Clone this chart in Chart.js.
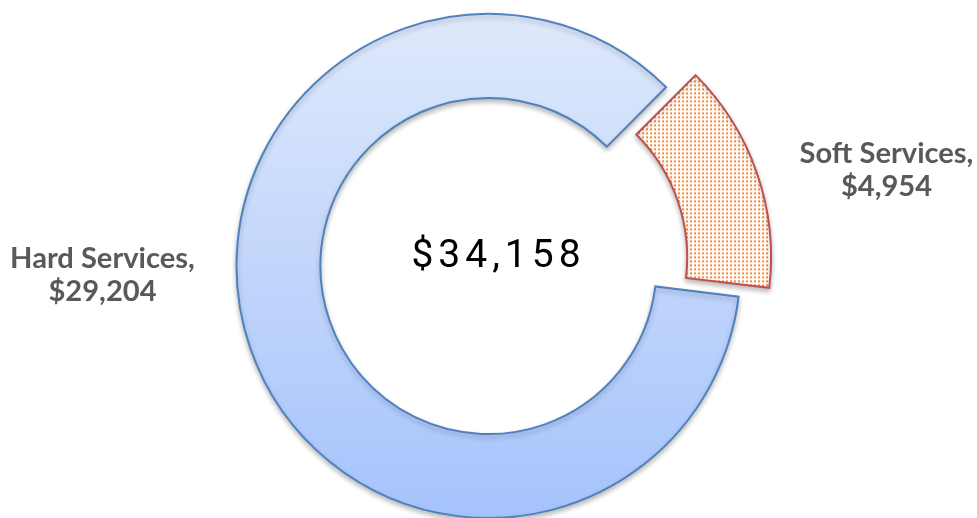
<!DOCTYPE html>
<html>
<head>
<meta charset="utf-8">
<script src="https://cdn.jsdelivr.net/npm/chart.js@4.4.1/dist/chart.umd.min.js"></script>
<style>
html,body{margin:0;padding:0;background:#fff;}
#wrap{width:977px;height:518px;position:relative;}
</style>
</head>
<body>
<div id="wrap"><canvas id="c" width="977" height="518"></canvas></div>
<script>
const categories = ["Hard Services", "Soft Services"];
const values = [29204, 4954];
const totalLabel = "$34,158";
const valueLabels = ["$29,204", "$4,954"];

function dotPattern() {
  const p = document.createElement('canvas');
  p.width = 4; p.height = 4;
  const g = p.getContext('2d');
  g.fillStyle = '#ffffff'; g.fillRect(0,0,4,4);
  g.fillStyle = '#f58a3a'; g.fillRect(1,1,2,2);
  return g.createPattern(p, 'repeat');
}

function fitFont(ctx, text, weight, family, width) {
  ctx.font = weight + ' 100px ' + family;
  const w = ctx.measureText(text).width;
  const size = 100 * width / w;
  ctx.font = weight + ' ' + size.toFixed(1) + 'px ' + family;
}

const labelPlugin = {
  id: 'labels',
  afterDatasetsDraw(chart) {
    const ctx = chart.ctx;
    const meta = chart.getDatasetMeta(0);
    const a0 = meta.data[0];
    const cx = a0.x, cy = a0.y, R = a0.outerRadius;
    ctx.save();
    ctx.fillStyle = '#000';
    ctx.font = '400 39px Roboto';
    try { ctx.letterSpacing = '5px'; } catch(e) {}
    ctx.textAlign = 'center';
    ctx.textBaseline = 'alphabetic';
    ctx.fillText(totalLabel, cx + 10, cy + 1);
    try { ctx.letterSpacing = '0px'; } catch(e) {}
    ctx.fillStyle = '#595959';
    fitFont(ctx, categories[0] + ',', 'bold', 'Lato', 185);
    const hx = cx - R - 134, hy = cy + 2;
    ctx.fillText(categories[0] + ',', hx, hy);
    ctx.fillText(valueLabels[0], hx, hy + 33);
    const sx = cx + R + 146, sy = cy - 103;
    ctx.fillText(categories[1] + ',', sx, sy);
    ctx.fillText(valueLabels[1], sx, sy + 33);
    ctx.restore();
  }
};

const shadowPlugin = {
  id: 'shadow',
  beforeDatasetDraw(chart) {
    const ctx = chart.ctx;
    ctx.save();
    ctx.shadowColor = 'rgba(0,0,0,0.25)';
    ctx.shadowBlur = 5;
    ctx.shadowOffsetY = 3;
  },
  afterDatasetDraw(chart) { chart.ctx.restore(); }
};

new Chart(document.getElementById('c'), {
  type: 'doughnut',
  data: {
    labels: categories,
    datasets: [{
      data: values,
      backgroundColor: (ctx) => {
        if (ctx.dataIndex === 1) return dotPattern();
        const chart = ctx.chart;
        const el = chart.getDatasetMeta(0).data[0];
        const cy = (el && el.y) ? el.y : 266;
        const R = (el && el.outerRadius) ? el.outerRadius : 252;
        const g = chart.ctx.createLinearGradient(0, cy - R, 0, cy + R);
        g.addColorStop(0, '#dfe9fc');
        g.addColorStop(1, '#a5c3fb');
        return g;
      },
      borderColor: ['#4f81bd', '#c0504d'],
      borderWidth: 2,
      offset: [0, 106],
      borderJoinStyle: 'miter',
      borderAlign: 'center'
    }]
  },
  options: {
    responsive: false,
    animation: false,
    rotation: 97,
    cutout: '66.7%',
    radius: 252,
    layout: { padding: { top: 14, bottom: 0, left: 0, right: 0 } },
    plugins: { legend: { display: false }, tooltip: { enabled: false } }
  },
  plugins: [shadowPlugin, labelPlugin]
});
</script>
</body>
</html>
